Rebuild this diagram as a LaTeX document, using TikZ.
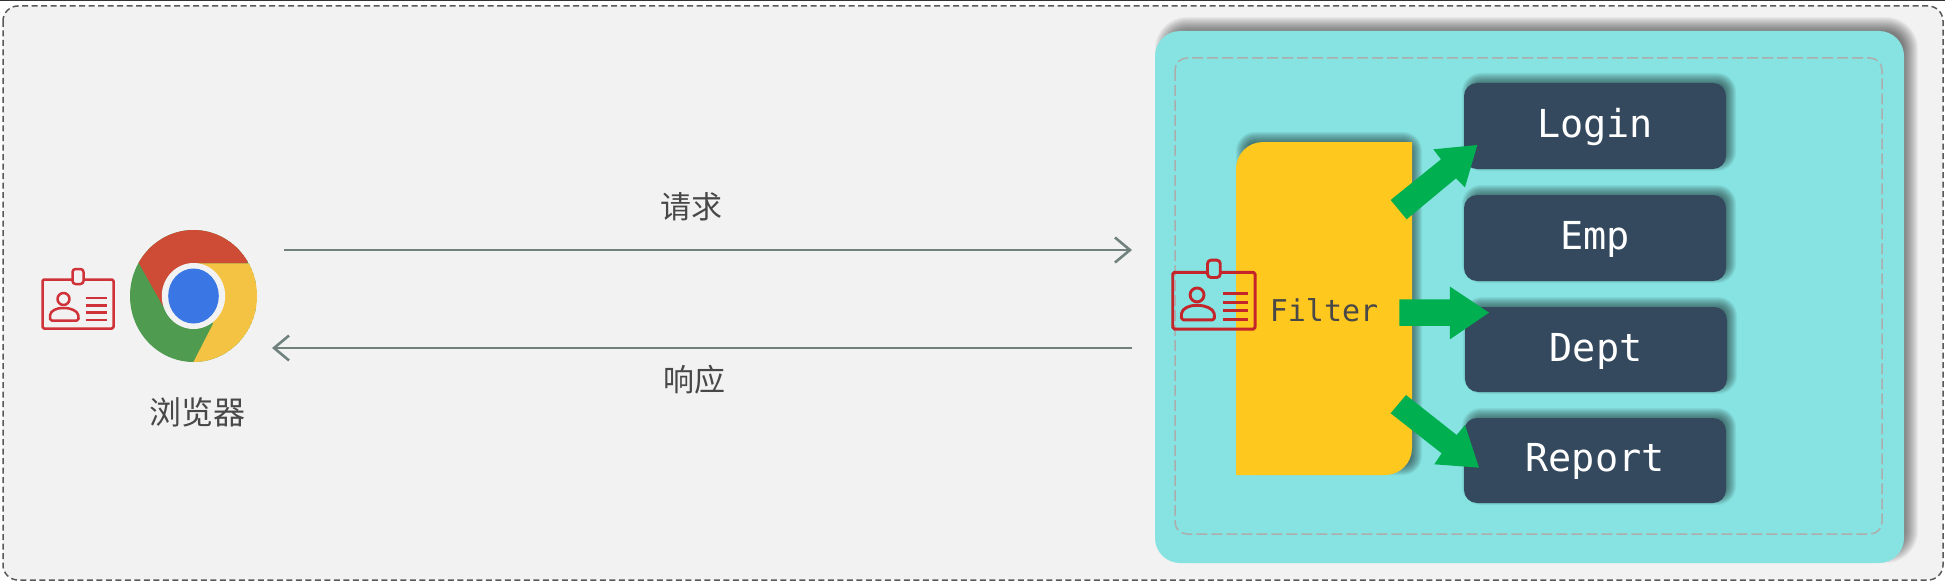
\documentclass[tikz,border=0pt]{standalone}
\usepackage{fontspec}
\newfontfamily\cjkfont{Noto Sans CJK SC}
\newfontfamily\codefont{DejaVu Sans Mono}
\usetikzlibrary{arrows.meta}
\definecolor{pagegray}{HTML}{F2F2F2}
\definecolor{panelteal}{HTML}{86E3E1}
\definecolor{boxnavy}{HTML}{34495E}
\definecolor{filteryellow}{HTML}{FFC81E}
\definecolor{arrowgreen}{HTML}{00B050}
\definecolor{linegray}{HTML}{71827E}
\definecolor{labelgray}{HTML}{484848}
\definecolor{cardred}{HTML}{CF3238}
\definecolor{cardreddark}{HTML}{C4252B}
\definecolor{chromered}{HTML}{CE4B35}
\definecolor{chromeyellow}{HTML}{F4C344}
\definecolor{chromegreen}{HTML}{4F9B50}
\definecolor{chromeblue}{HTML}{3A77E4}
\tikzset{
  x=1pt,y=-1pt,
  pagelabel/.style={font=\cjkfont\fontsize{31}{31}\selectfont,text=labelgray,inner sep=0pt},
  routebox/.style={fill=boxnavy,rounded corners=13pt,minimum width=262pt,minimum height=86pt,inner sep=0pt},
  routetext/.style={text=white,font=\codefont\fontsize{38.5}{38.5}\selectfont,inner sep=0pt},
  flowline/.style={draw=linegray,line width=2.6pt,-{Straight Barb[length=15pt,width=25pt,line width=2.6pt]}},
  greenarrow/.style={fill=arrowgreen},
}
% #1..#4 rectangle, #5 radius, #6 half number of layers, #7 layer opacity, #8 colour, #9 offset
\newcommand{\softshadow}[9]{%
  \pgfmathtruncatemacro\nlow{-#6}%
  \foreach \ee in {#6,...,\nlow}{%
    \pgfmathsetmacro\rr{max(#5+\ee,1)}%
    \fill[#8,opacity=#7,rounded corners={\rr}]
      ({#1+#9-\ee},{#2-#9-\ee}) rectangle ({#3+#9+\ee},{#4-#9+\ee});
  }%
}
\newcommand{\idcard}[5]{%
  \begin{scope}[shift={(#1,#2)},x=#3pt,y=-#3pt,draw=#4,line width=#3*2.5pt,line join=round]
    \draw[rounded corners=#3*1.5pt] (0,0) rectangle (71,49);
    \draw[fill=#5,rounded corners=#3*3pt] (30,-10.5) rectangle (41,4.5);
    \draw (21,19.5) circle[radius=6];
    \draw[rounded corners=#3*1.6pt] (7.5,41) -- (7.5,37) .. controls (8,31) and (15,28.5) .. (21,28.5)
       .. controls (27,28.5) and (35,31) .. (36,37) -- (36,41) -- cycle;
    \draw (43,18.5) -- (64.5,18.5) (43,26) -- (64.5,26) (43,33) -- (64.5,33) (43,40.5) -- (64.5,40.5);
  \end{scope}%
}
\begin{document}
\begin{tikzpicture}
\useasboundingbox (0,0) rectangle (1945,583);
\fill[white] (0,0) rectangle (1945,583);
\fill[black!80] (0,0) rectangle (1945,1.5);
\draw[fill=pagegray,draw=black!65,line width=1.5pt,dash pattern=on 6pt off 3.5pt,rounded corners=15pt] (3,6) rectangle (1943,580);

% server panel
\softshadow{1155}{31}{1904}{563}{25}{7}{0.04}{black}{7}
\node[fill=panelteal,rounded corners=25pt,minimum width=749pt,minimum height=532pt,inner sep=0pt] (panel) at (1529.5,297) {};
\draw[draw=black!32,line width=1.5pt,dash pattern=on 11pt off 4pt,rounded corners=12pt] (1175,58) rectangle (1882,534);

% filter
\softshadow{1236}{142}{1412}{475}{14}{5}{0.07}{black!80!panelteal}{5}
\fill[filteryellow] (1236,475) -- (1236,169) .. controls (1236,154) and (1248,142) .. (1263,142)
  -- (1412,142) -- (1412,448) .. controls (1412,463) and (1400,475) .. (1385,475) -- cycle;
\node[font=\codefont\fontsize{30}{30}\selectfont,text=labelgray,inner sep=0pt] (filter) at (1324,310) {Filter};

% routes
\softshadow{1464}{83}{1726}{169}{13}{6}{0.07}{black!80!panelteal}{4}
\softshadow{1464}{195}{1726}{281}{13}{6}{0.07}{black!80!panelteal}{4}
\softshadow{1465}{307}{1727}{392}{13}{6}{0.07}{black!80!panelteal}{4}
\softshadow{1464}{418}{1726}{503}{13}{6}{0.07}{black!80!panelteal}{4}
\node[routebox] (login) at (1595,126) {};
\node[routebox] (emp) at (1595,238) {};
\node[routebox,minimum height=85pt] (dept) at (1596,349.5) {};
\node[routebox,minimum height=85pt] (report) at (1595,460.5) {};
\node[routetext] (logintext) at (1595,127.5) {Login};
\node[routetext] (emptext) at (1595,239.5) {Emp};
\node[routetext] (depttext) at (1596,351.5) {Dept};
\node[routetext] (reporttext) at (1595,461.5) {Report};

% green arrows
\begin{scope}[shift={(1140,120)},x=0.3333pt,y=-0.3333pt]
  \fill[greenarrow] (752,240) -- (903,118) -- (880,88) -- (1012,75) -- (975,202) -- (948,175) -- (800,298) -- cycle;
  \fill[greenarrow] (778,538) -- (930,538) -- (930,500) -- (1047,578) -- (930,658) -- (930,618) -- (778,618) -- cycle;
  \fill[greenarrow] (798,825) -- (950,945) -- (975,915) -- (1017,1043) -- (883,1033) -- (905,1000) -- (752,880) -- cycle;
\end{scope}

\idcard{1172.7}{272.3}{1.16}{cardreddark}{panelteal}

% flow
\coordinate (reqstart) at (284,250);
\coordinate (reqend) at (1132,250);
\coordinate (respstart) at (1132,348);
\coordinate (respend) at (272,348);
\draw[flowline] (reqstart) -- (reqend);
\draw[flowline] (respstart) -- (respend);
\node[pagelabel] (req) at (691,207) {请求};
\node[pagelabel] (resp) at (694,380) {响应};

% browser
\begin{scope}
  \clip (193.5,296) ellipse[x radius=63.5,y radius=66];
  \fill[chromegreen] (193.5,296) ellipse[x radius=63.5,y radius=66];
  \fill[chromered] (125,220) -- (265,220) -- (246.7,263.3) -- (193.3,263.3) -- (163.3,306.7) -- (139,263.3) -- cycle;
  \fill[chromeyellow] (246.7,263.3) -- (193.3,263.3) -- (193.3,296) -- (213.3,323.3) -- (193.3,362.3) -- (265,362.3) -- (265,263.3) -- cycle;
\end{scope}
\fill[white!95!black] (193.5,296) ellipse[x radius=31.7,y radius=33];
\fill[chromeblue] (193.5,296) ellipse[x radius=25.3,y radius=27.5];
\node[inner sep=0pt,minimum width=127pt,minimum height=132pt] (chrome) at (193.5,296) {};
\node[pagelabel,font=\cjkfont\fontsize{32}{32}\selectfont] (browser) at (197,412) {浏览器};
\idcard{42.5}{279.5}{1}{cardred}{pagegray}
\end{tikzpicture}
\end{document}
